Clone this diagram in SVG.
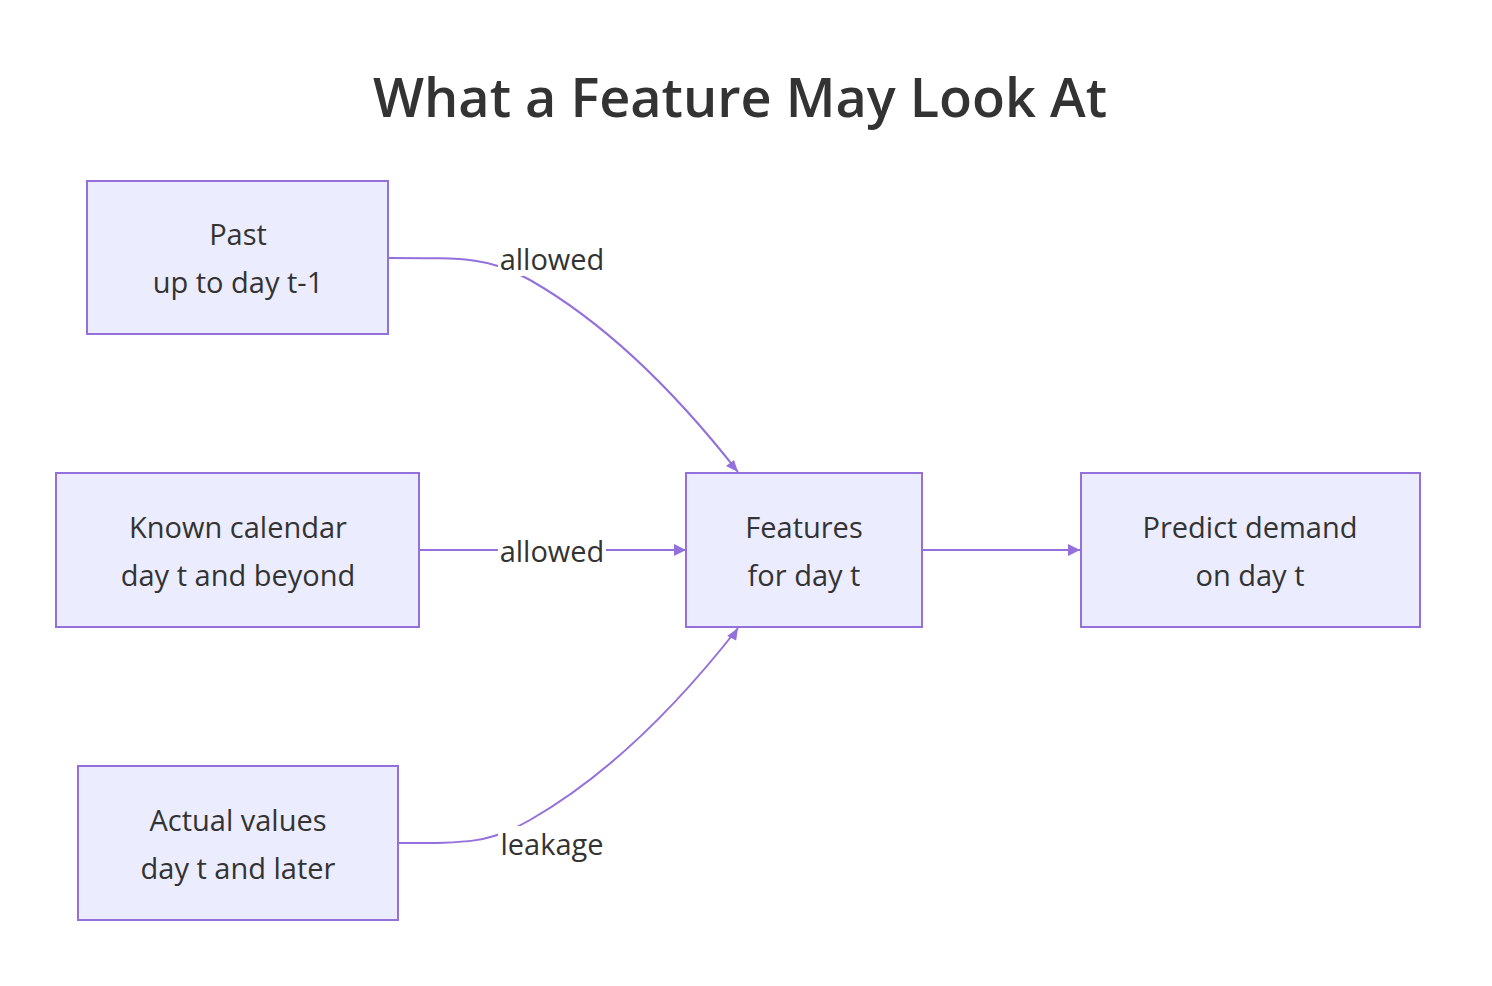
<svg xmlns="http://www.w3.org/2000/svg" width="1492" height="986" viewBox="0 0 1492 986">
<style>
.n{fill:#ECECFF;stroke:#9370DB;stroke-width:2}
.t{font-family:"Open Sans","Liberation Sans",sans-serif;font-size:29px;fill:#333;text-anchor:middle}
.e{fill:none;stroke:#9370DB;stroke-width:2}
.l{font-family:"Open Sans","Liberation Sans",sans-serif;font-size:29px;fill:#333;text-anchor:middle}
</style>
<defs><marker id="a" viewBox="0 0 10 10" refX="9" refY="5" markerWidth="8" markerHeight="8" orient="auto-start-reverse" markerUnits="userSpaceOnUse"><path d="M0,0L10,5L0,10z" fill="#9370DB" transform="scale(1.6) translate(-4,-2)"/></marker></defs>
<rect width="1492" height="986" fill="#fff"/>
<text x="740" y="117" font-family="'Open Sans','Liberation Sans',sans-serif" font-size="54" font-weight="600" fill="#333" text-anchor="middle">What a Feature May Look At</text>
<g id="edges">
<path class="e" d="M389,258 C470,258 490,258 530,280 C600,320 670,385 738,472"/>
<path d="M738,472 l-12,-6 l8,-6z" fill="#9370DB" transform="rotate(0)"/>
<path class="e" d="M420,550 H686"/>
<path d="M686,550 l-12,-6 v12z" fill="#9370DB"/>
<path class="e" d="M398,843 C470,843 490,843 530,820 C600,780 670,715 738,628"/>
<path d="M738,628 l-12,6 l8,6z" fill="#9370DB" transform="rotate(-10 738 628)"/>
<path class="e" d="M922,550 H1080"/>
<path d="M1080,550 l-12,-6 v12z" fill="#9370DB"/>
<rect x="498" y="240" width="108" height="36" fill="#fff"/>
<text class="l" x="552" y="270">allowed</text>
<rect x="498" y="532" width="108" height="36" fill="#fff"/>
<text class="l" x="552" y="562">allowed</text>
<rect x="498" y="826" width="108" height="36" fill="#fff"/>
<text class="l" x="552" y="855">leakage</text>
</g>
<g id="past"><rect class="n" x="87" y="181" width="301" height="153"/><text class="t" x="238" y="245">Past</text><text class="t" x="238" y="293">up to day t-1</text></g>
<g id="known"><rect class="n" x="56" y="473" width="363" height="154"/><text class="t" x="238" y="538">Known calendar</text><text class="t" x="238" y="586">day t and beyond</text></g>
<g id="actual"><rect class="n" x="78" y="766" width="320" height="154"/><text class="t" x="238" y="831">Actual values</text><text class="t" x="238" y="879">day t and later</text></g>
<g id="features"><rect class="n" x="686" y="473" width="236" height="154"/><text class="t" x="804" y="538">Features</text><text class="t" x="804" y="586">for day t</text></g>
<g id="predict"><rect class="n" x="1081" y="473" width="339" height="154"/><text class="t" x="1250" y="538">Predict demand</text><text class="t" x="1250" y="586">on day t</text></g>
</svg>
